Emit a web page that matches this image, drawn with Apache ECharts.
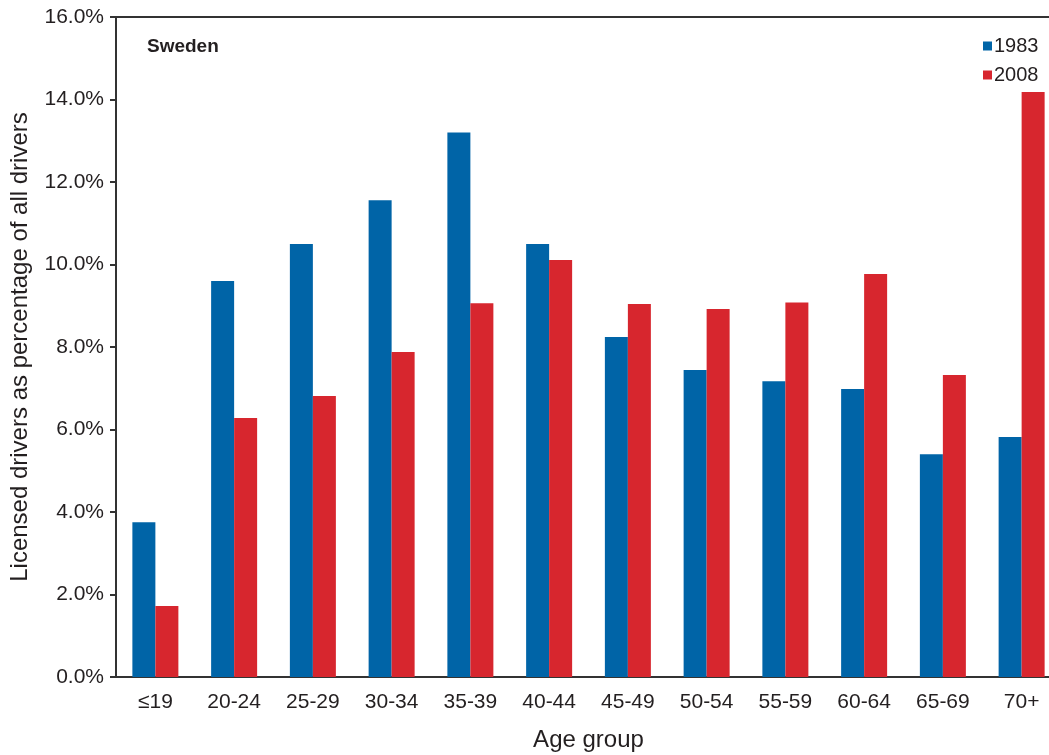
<!DOCTYPE html>
<html>
<head>
<meta charset="UTF-8">
<title>Sweden licensed drivers</title>
<script src="https://cdn.jsdelivr.net/npm/echarts@6/dist/echarts.min.js"></script>
<style>
  html, body { margin: 0; padding: 0; background: #fff; }
  #main { width: 1049px; height: 755px; }
</style>
</head>
<body>
<div id="main"></div>
<script type="text/javascript">
  // age groups on the x axis
  var ageGroups = ['≤19', '20-24', '25-29', '30-34', '35-39', '40-44', '45-49', '50-54', '55-59', '60-64', '65-69', '70+'];
  // share of all licensed drivers, percent
  var share1983 = [3.75, 9.6, 10.5, 11.56, 13.2, 10.5, 8.24, 7.44, 7.17, 6.98, 5.4, 5.82];
  var share2008 = [1.72, 6.28, 6.81, 7.88, 9.06, 10.11, 9.04, 8.92, 9.08, 9.77, 7.32, 14.18];

  var blue = '#0064a7';
  var red = '#d7262e';
  var ink = '#231f20';

  var myChart = echarts.init(document.getElementById('main'));

  var option = {
    animation: false,
    grid: { left: 116, top: 17, bottom: 78, right: -12, outerBoundsMode: 'none', containLabel: false },
    legend: {
      orient: 'vertical',
      left: 978,
      top: 31,
      itemWidth: 9,
      itemHeight: 9,
      itemGap: 9,
      icon: 'rect',
      textStyle: { fontFamily: 'Liberation Sans', fontSize: 20, color: ink, padding: [0, 0, 0, -3] },
      data: ['1983', '2008']
    },
    title: {
      text: 'Sweden',
      left: 142,
      top: 32,
      textStyle: { fontFamily: 'Liberation Sans', fontSize: 19, fontWeight: 'bold', color: ink }
    },
    xAxis: [{
      type: 'category',
      data: ageGroups,
      name: 'Age group',
      nameLocation: 'middle',
      nameGap: 51,
      nameTextStyle: { fontFamily: 'Liberation Sans', fontSize: 24, color: ink },
      axisLine: { lineStyle: { color: '#333', width: 2 } },
      axisTick: { length: 6, lineStyle: { color: '#333', width: 2 } },
      axisLabel: { margin: 15, fontFamily: 'Liberation Sans', fontSize: 21, color: ink }
    }, {
      // top border
      type: 'category',
      position: 'top',
      data: ageGroups,
      axisLine: { lineStyle: { color: '#333', width: 2 } },
      axisTick: { show: false },
      axisLabel: { show: false }
    }],
    yAxis: {
      type: 'value',
      min: 0,
      max: 16,
      interval: 2,
      name: 'Licensed drivers as percentage of all drivers',
      nameLocation: 'middle',
      nameGap: 84,
      nameTextStyle: { fontFamily: 'Liberation Sans', fontSize: 24, color: ink },
      axisLine: { show: true, lineStyle: { color: '#333', width: 2 } },
      axisTick: { show: true, length: 6, lineStyle: { color: '#333', width: 2 } },
      splitLine: { show: false },
      axisLabel: {
        margin: 12,
        fontFamily: 'Liberation Sans',
        fontSize: 21,
        color: ink,
        formatter: function (v) { return v.toFixed(1) + '%'; }
      }
    },
    series: [{
      name: '1983',
      type: 'bar',
      data: share1983,
      barWidth: 23,
      barGap: '0%',
      itemStyle: { color: blue }
    }, {
      name: '2008',
      type: 'bar',
      data: share2008,
      barWidth: 23,
      barGap: '0%',
      itemStyle: { color: red }
    }]
  };

  myChart.setOption(option);
</script>
</body>
</html>
